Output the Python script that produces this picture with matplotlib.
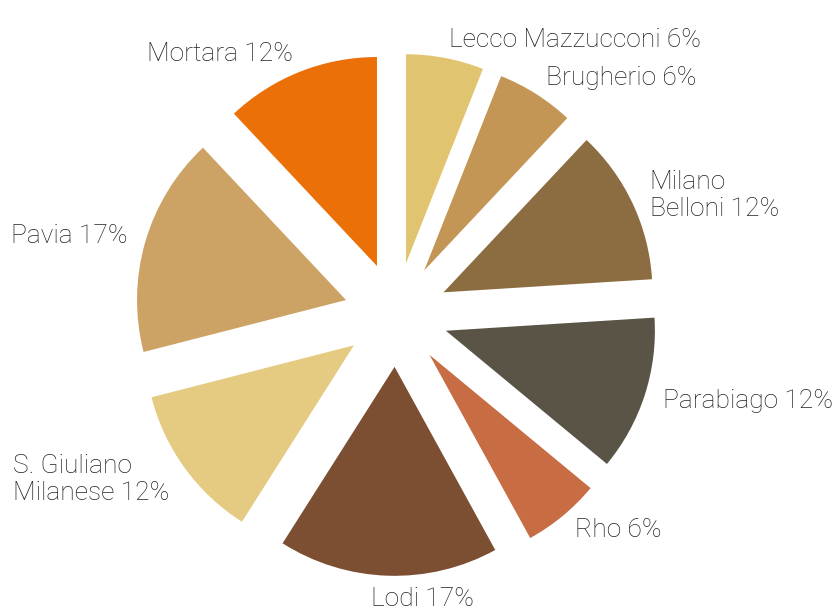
import matplotlib
matplotlib.use("Agg")
import matplotlib.pyplot as plt
from numpy import cos, radians

# sedi e quote (in senso orario a partire dall'alto)
sedi = ["Lecco Mazzucconi", "Brugherio", "Milano\nBelloni", "Parabiago", "Rho",
        "Lodi", "S. Giuliano\nMilanese", "Pavia", "Mortara"]
quote = [6, 6, 12, 12, 6, 17, 12, 17, 12]
colori = ["#E1C470", "#C39656", "#8C6D41", "#5A5447", "#C76C43",
          "#7C4F32", "#E5CB82", "#CCA365", "#EC7008"]

esplodi = 0.25
etichette = ["%s %d%%" % (s, q) for s, q in zip(sedi, quote)]

fig = plt.figure(figsize=(8.32, 6.12), dpi=100)
ax = fig.add_axes([0, 0, 1, 1])

wedges, testi = ax.pie(quote, labels=etichette, colors=colori, startangle=90,
                       counterclock=False, explode=[esplodi] * len(quote),
                       labeldistance=1.09, radius=1,
                       wedgeprops=dict(linewidth=0),
                       textprops=dict(fontsize=19, color="#222222",
                                      family=["Roboto", "DejaVu Sans"],
                                      fontweight="light", linespacing=1.15))

for w, t in zip(wedges, testi):
    t.set_multialignment("left")
    ang = radians((w.theta1 + w.theta2) / 2.0)
    if abs(cos(ang)) < 0.1:
        # etichetta in basso: centrata, un po' spostata come nell'originale
        t.set_horizontalalignment("center")
        t.set_verticalalignment("center")
        x, y = t.get_position()
        t.set_position((x + 0.17, y - 0.02))

# scala: 1 unita' = 209 px, centro torta a (396.2, 314.6) px
r_px = 209.
cx, cy = 396.2, 612 - 314.6
ax.set_aspect("auto")
ax.set_xlim(-cx / r_px, (832 - cx) / r_px)
ax.set_ylim(-cy / r_px, (612 - cy) / r_px)
ax.axis("off")

fig.savefig("out.png", dpi=100)
